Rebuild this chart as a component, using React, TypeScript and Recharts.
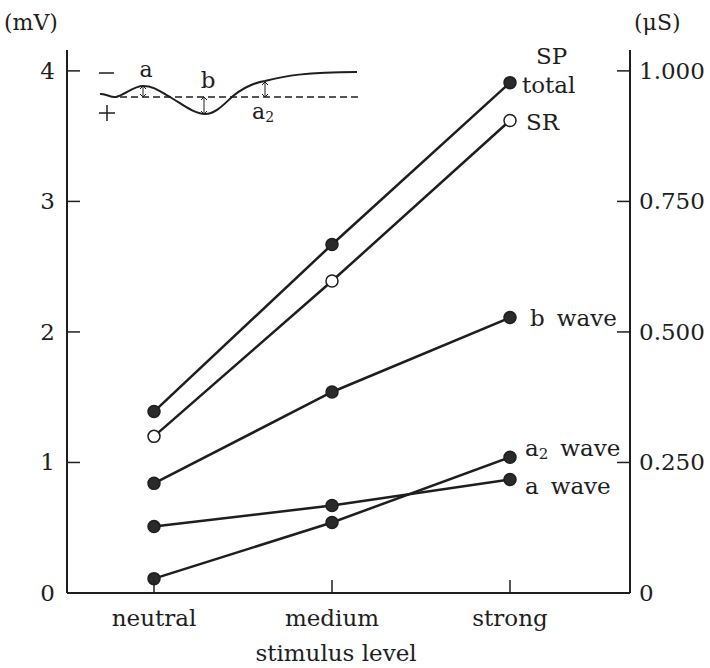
import React from "react";
import { LineChart, Line, XAxis, YAxis, Customized } from "recharts";

const categories = ["neutral", "medium", "strong"];
const total = [1.39, 2.67, 3.91];
const sr = [1.2, 2.39, 3.62];
const bWave = [0.84, 1.54, 2.11];
const a2Wave = [0.11, 0.54, 1.04];
const aWave = [0.51, 0.67, 0.87];

const leftTicks = [0, 1, 2, 3, 4];
const rightTicks = [0, 0.25, 0.5, 0.75, 1];
const rightTickLabels = ["0", "0.250", "0.500", "0.750", "1.000"];

const data = categories.map((name, i) => ({
  name,
  total: total[i],
  sr: sr[i],
  bWave: bWave[i],
  a2Wave: a2Wave[i],
  aWave: aWave[i],
}));

const INK = "#1e1e1e";
const FONT = "DejaVu Serif";
const FS = 23;

const LeftTick = (props: any) => {
  const { x, y, payload } = props;
  return (
    <g>
      <line x1={x} x2={x + 13} y1={y} y2={y} stroke={INK} strokeWidth={1.5} />
      <text x={x - 12} y={y + 8} textAnchor="end" fontFamily={FONT} fontSize={FS} fill={INK}>
        {payload.value}
      </text>
    </g>
  );
};

const RightTick = (props: any) => {
  const { x, y, payload } = props;
  const idx = rightTicks.indexOf(payload.value);
  return (
    <g>
      <line x1={x - 13} x2={x} y1={y} y2={y} stroke={INK} strokeWidth={1.5} />
      <text x={x + 9} y={y + 8} textAnchor="start" fontFamily={FONT} fontSize={FS} fill={INK}>
        {rightTickLabels[idx]}
      </text>
    </g>
  );
};

const BottomTick = (props: any) => {
  const { x, y, payload } = props;
  return (
    <g>
      <line x1={x} x2={x} y1={y} y2={y - 13} stroke={INK} strokeWidth={1.5} />
      <text x={x} y={y + 33} textAnchor="middle" fontFamily={FONT} fontSize={FS} fill={INK}>
        {payload.value}
      </text>
    </g>
  );
};

// label drawn only next to the last ("strong") point
const endLabel =
  (main: string, opts: { sub?: string; word?: string; dx?: number; dy?: number } = {}) =>
  (props: any) => {
    const { x, y, index } = props;
    if (index !== categories.length - 1) return null;
    const { sub, word, dx = 16, dy = 8 } = opts;
    return (
      <text x={x + dx} y={y + dy} fontFamily={FONT} fontSize={FS} fill={INK}>
        {main}
        {sub ? (
          <tspan fontSize={15} dy={3}>
            {sub}
          </tspan>
        ) : null}
        {word ? (
          <tspan dx={12} dy={sub ? -3 : 0}>
            {word}
          </tspan>
        ) : null}
      </text>
    );
  };

const arrow = (x: number, y1: number, y2: number) => (
  <g stroke={INK} strokeWidth={1} fill="none">
    <line x1={x} x2={x} y1={y1} y2={y2} />
    <polyline points={`${x - 3},${y1 + 3} ${x},${y1} ${x + 3},${y1 + 3}`} />
    <polyline points={`${x - 3},${y2 - 3} ${x},${y2} ${x + 3},${y2 - 3}`} />
  </g>
);

// schematic waveform inset (top left)
const Inset = () => (
  <g fontFamily={FONT} fill={INK}>
    <line x1={120} x2={362} y1={97} y2={97} stroke={INK} strokeWidth={1.3} strokeDasharray="7 4" />
    <path
      d="M100,94 C106,93 110,98 116,97 C126,94 134,86 143,86 C155,86 162,93 170,97 C182,104 194,114 205,114 C216,114 225,103 233,96 C243,88 252,83 265,81 C285,76 305,72 357,72"
      stroke={INK}
      strokeWidth={2}
      fill="none"
    />
    {arrow(143, 86, 97)}
    {arrow(204, 97, 114)}
    {arrow(265, 82, 97)}
    <line x1={99} x2={114} y1={73} y2={73} stroke={INK} strokeWidth={1.5} />
    <line x1={99} x2={115} y1={113} y2={113} stroke={INK} strokeWidth={1.5} />
    <line x1={107} x2={107} y1={105} y2={121} stroke={INK} strokeWidth={1.5} />
    <text x={146} y={77} fontSize={22} textAnchor="middle">a</text>
    <text x={208} y={88} fontSize={23} textAnchor="middle">b</text>
    <text x={252} y={119} fontSize={22}>
      a<tspan fontSize={14} dy={3}>2</tspan>
    </text>
  </g>
);

const Titles = () => (
  <g fontFamily={FONT} fill={INK}>
    <text x={4} y={30} fontSize={22}>(mV)</text>
    <text x={634} y={30} fontSize={22}>(μS)</text>
    <text x={536} y={64} fontSize={FS}>SP</text>
    <text x={336} y={661} textAnchor="middle" fontSize={FS}>stimulus level</text>
  </g>
);

const dot = { r: 6, fill: "#2a2a2a", stroke: INK, strokeWidth: 1.5 };
const openDot = { r: 6, fill: "#ffffff", stroke: INK, strokeWidth: 1.5 };

export default function App() {
  return (
    <div style={{ position: "absolute", left: 0, top: 0, width: 710, height: 668, background: "#fff" }}>
      <LineChart width={710} height={668} data={data} margin={{ top: 50, right: 10, bottom: 5, left: 27 }}>
        <XAxis
          dataKey="name"
          padding={{ left: 87, right: 120 }}
          height={70}
          tickSize={0}
          tickMargin={0}
          tickLine={false}
          axisLine={{ stroke: INK, strokeWidth: 2 }}
          tick={<BottomTick />}
          interval={0}
        />
        <YAxis
          yAxisId="left"
          domain={[0, 4.16]}
          ticks={leftTicks}
          width={40}
          tickSize={0}
          tickMargin={0}
          tickLine={false}
          axisLine={{ stroke: INK, strokeWidth: 2 }}
          tick={<LeftTick />}
          allowDataOverflow
        />
        <YAxis
          yAxisId="right"
          orientation="right"
          domain={[0, 1.04]}
          ticks={rightTicks}
          width={70}
          tickSize={0}
          tickMargin={0}
          tickLine={false}
          axisLine={{ stroke: INK, strokeWidth: 2 }}
          tick={<RightTick />}
          allowDataOverflow
        />
        <Line yAxisId="left" dataKey="total" stroke={INK} strokeWidth={2.5} dot={dot} isAnimationActive={false} label={endLabel("total", { dx: 12, dy: 10 })} />
        <Line yAxisId="left" dataKey="sr" stroke={INK} strokeWidth={2.5} dot={openDot} isAnimationActive={false} label={endLabel("SR", { dx: 16, dy: 10 })} />
        <Line yAxisId="left" dataKey="bWave" stroke={INK} strokeWidth={2.5} dot={dot} isAnimationActive={false} label={endLabel("b", { word: "wave", dx: 20, dy: 8 })} />
        <Line yAxisId="left" dataKey="a2Wave" stroke={INK} strokeWidth={2.5} dot={dot} isAnimationActive={false} label={endLabel("a", { sub: "2", word: "wave", dx: 15, dy: -1 })} />
        <Line yAxisId="left" dataKey="aWave" stroke={INK} strokeWidth={2.5} dot={dot} isAnimationActive={false} label={endLabel("a", { word: "wave", dx: 15, dy: 15 })} />
        <Customized component={Inset} />
        <Customized component={Titles} />
      </LineChart>
    </div>
  );
}
